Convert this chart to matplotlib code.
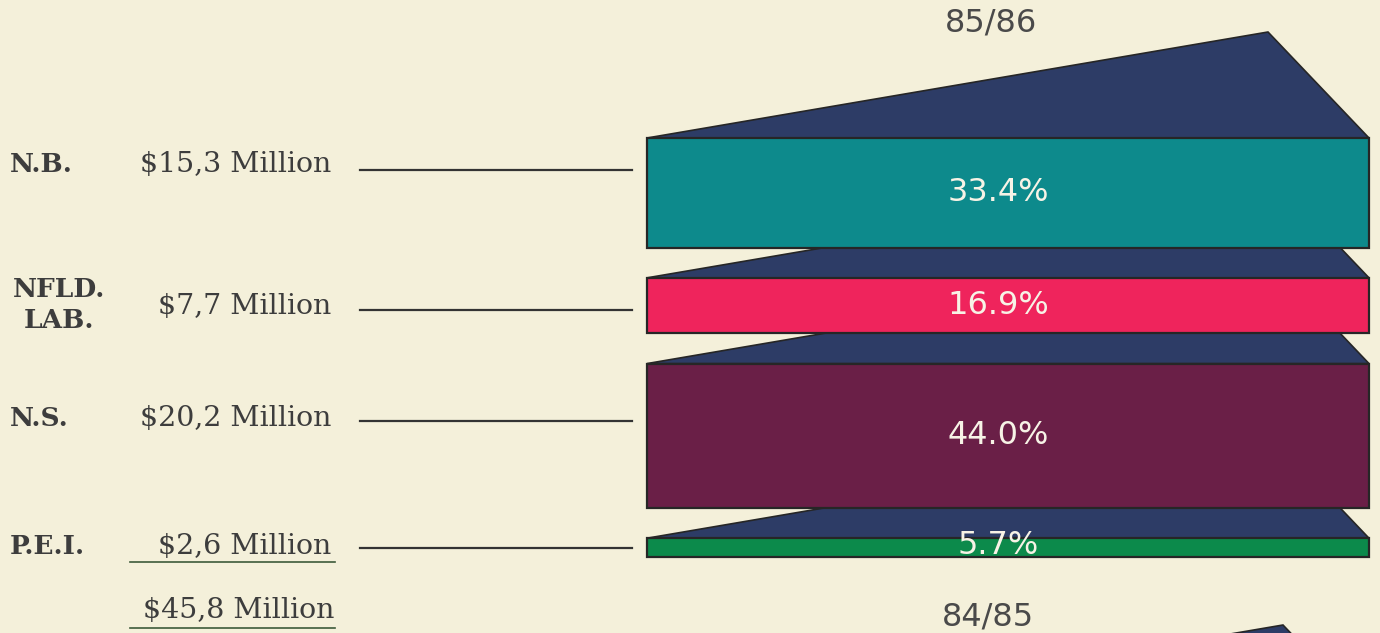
import matplotlib
matplotlib.use("Agg")
import matplotlib.pyplot as plt
from matplotlib.patches import Polygon, Rectangle

# data
provinces = ["N.B.", "NFLD.\nLAB.", "N.S.", "P.E.I."]
amounts = ["$15,3 Million", "$7,7 Million", "$20,2 Million", "$2,6 Million"]
shares = [33.4, 16.9, 44.0, 5.7]
total_label = "$45,8 Million"
years = ["85/86", "84/85"]
colors = ["#0d8a8c", "#ef245c", "#6a1f47", "#0c8a4b"]

# layout (canvas is in pixels, y downward)
bg = "#f4f0da"
navy = "#2d3c66"
edge = "#262626"
ink = "#3d3d3d"
x0, x1 = 647, 1369          # front face left/right
top0 = 138                  # first slab top
px_per_pct = 3.28
gap = 30.3
apex_dx, apex_dy = 621, 106  # back corner of the top face
label_y = [164, 307, 419, 546]
line_y = [170, 310, 421, 548]

fig = plt.figure(figsize=(13.8, 6.33), dpi=100, facecolor=bg)
ax = fig.add_axes([0, 0, 1, 1])
ax.set_facecolor(bg)
ax.set_xlim(0, 1380)
ax.set_ylim(633, 0)
ax.axis("off")

serif = "DejaVu Serif"
sans = "DejaVu Sans"

# slabs
y = top0
n = len(shares)
for i, (s, c) in enumerate(zip(shares, colors)):
    h = s * px_per_pct
    z = 10 + (n - i) * 2
    ax.add_patch(Polygon([(x0, y), (x0 + apex_dx, y - apex_dy), (x1, y)],
                         closed=True, facecolor=navy, edgecolor=edge,
                         linewidth=1.2, zorder=z - 1))
    ax.add_patch(Rectangle((x0, y), x1 - x0, h, facecolor=c,
                           edgecolor=edge, linewidth=1.6, zorder=z))
    ty = y + h / 2 if h > 30 else y + h / 2 - 2
    ax.text(998, ty, f"{s:.1f}%", color="#f7f3e6", fontsize=23,
            family=sans, ha="center", va="center", zorder=30)
    y += h + gap

# start of the 84/85 chart at the bottom edge
nxt = 731
ax.add_patch(Polygon([(x0 + 15, nxt), (x0 + 15 + apex_dx, nxt - apex_dy),
                      (x1 + 15, nxt)], closed=True, facecolor=navy,
                     edgecolor=edge, linewidth=1.2, zorder=5))

# year labels
ax.text(991, 23, years[0], color="#4a4a4a", fontsize=23, family=sans,
        ha="center", va="center")
ax.text(988, 617, years[1], color="#4a4a4a", fontsize=23, family=sans,
        ha="center", va="center")

# left labels
for i in range(n):
    if "\n" in provinces[i]:
        ax.text(59, 305, provinces[i], color=ink, fontsize=19,
                fontweight="bold", family=serif, ha="center", va="center",
                linespacing=1.3)
    else:
        ax.text(10, label_y[i], provinces[i], color=ink, fontsize=19,
                fontweight="bold", family=serif, ha="left", va="center")
    ax.text(331, label_y[i], amounts[i], color=ink, fontsize=20.5,
            family=serif, ha="right", va="center")
    ax.plot([360, 632], [line_y[i], line_y[i]], color="#333333", lw=1.6)

ax.text(334, 611, total_label, color=ink, fontsize=20.5, family=serif,
        ha="right", va="center")
ax.plot([130, 335], [562, 562], color="#3d5a3a", lw=1.2)
ax.plot([130, 335], [628, 628], color="#3d5a3a", lw=1.2)

fig.savefig("out.png", dpi=100, facecolor=bg)
